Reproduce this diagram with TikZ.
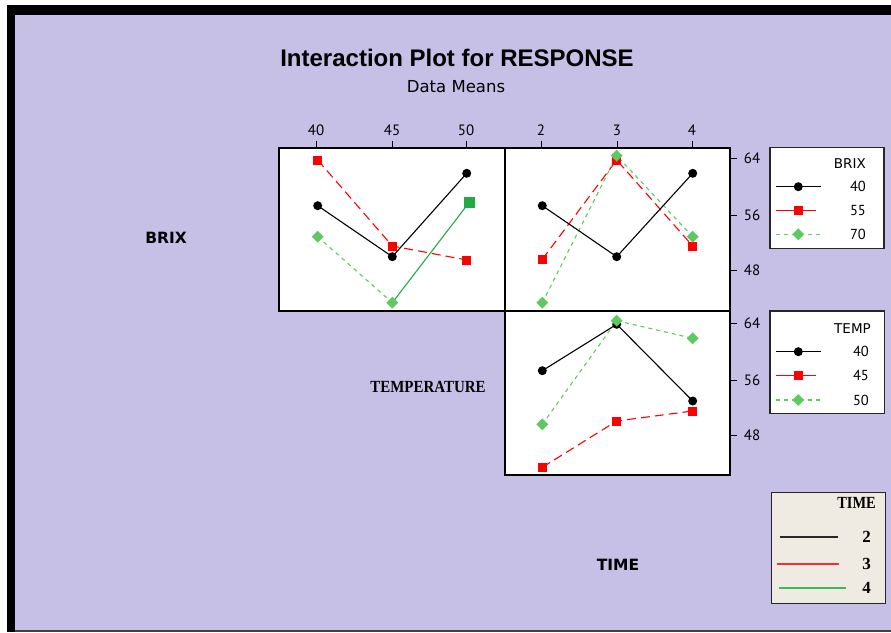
\documentclass[tikz,border=0pt]{standalone}
\usepackage{fontspec}
\setmainfont{PT Sans}
\newfontfamily\tnr{Liberation Serif}
\newfontfamily\arl{Liberation Sans}
\newfontfamily\dvs{DejaVu Sans}
\usetikzlibrary{shapes.geometric}
\definecolor{lav}{RGB}{199,192,230}
\definecolor{pred}{RGB}{255,0,0}
\definecolor{pgrn}{RGB}{96,200,96}
\definecolor{dgrn}{RGB}{34,170,70}
\definecolor{kgrn}{RGB}{60,185,90}
\definecolor{kred}{RGB}{240,50,50}
\definecolor{kblk}{RGB}{40,40,40}
\definecolor{beige}{RGB}{239,235,226}
\tikzset{
  panel/.style={draw=black, line width=1.4pt, fill=white},
  legbox/.style={draw=black!85, line width=1.4pt, fill=white},
  lblack/.style={black, line width=1.1pt},
  lred/.style={pred, line width=1.1pt, dash pattern=on 9pt off 5pt},
  lgrn/.style={pgrn, line width=1.1pt, dash pattern=on 4pt off 4pt},
  lredsolid/.style={pred, line width=1.1pt},
  mcirc/.style={circle, fill=black, inner sep=0pt, minimum size=9pt},
  msq/.style={rectangle, fill=pred, inner sep=0pt, minimum size=9pt},
  mdia/.style={diamond, fill=pgrn, inner sep=0pt, minimum size=12pt},
  tick/.style={black, line width=1pt},
  ticklbl/.style={font=\fontsize{15}{15}\selectfont, inner sep=0pt},
  factor/.style={font=\dvs\bfseries\fontsize{15.5}{15.5}\selectfont, inner sep=0pt},
  legtitle/.style={font=\dvs\fontsize{13.5}{13.5}\selectfont, inner sep=0pt, anchor=east},
  legtxt/.style={font=\fontsize{14.5}{14.5}\selectfont, inner sep=0pt, anchor=east},
  timetxt/.style={font=\tnr\bfseries\fontsize{17}{17}\selectfont, inner sep=0pt},
  timeline/.style={line width=2pt},
}
\begin{document}
\begin{tikzpicture}[x=1pt, y=-1pt]
% page and frame
\fill[white] (0,0) rectangle (891,632);
\useasboundingbox (0,0) rectangle (891,632);
\fill[black] (7,5) rectangle (891,632);
\fill[lav] (15,15) rectangle (891,630);
\fill[black!75] (15,630) rectangle (891,632);

% titles
\node[font=\arl\bfseries\fontsize{24}{24}\selectfont, inner sep=0pt] (title) at (457,58) {Interaction Plot for RESPONSE};
\node[font=\dvs\fontsize{16.5}{16.5}\selectfont, inner sep=0pt] (sub) at (456,87) {Data Means};

% panels
\draw[panel] (279,148) rectangle (505,311);
\draw[panel] (505,148) rectangle (730,311);
\draw[panel] (505,311) rectangle (730,475);

% top ticks and labels
\foreach \xx/\lab in {316/40,392/45,466/50,541/2,617/3,692/4}{
  \draw[tick] (\xx,141) -- (\xx,148);
  \node[ticklbl] at (\xx,130) {\lab};
}
% right ticks and labels
\foreach \yy/\lab in {158/64,215/56,270/48,323/64,380/56,435/48}{
  \draw[tick] (730,\yy) -- (737,\yy);
  \node[ticklbl] at (752,\yy) {\lab};
}

% factor names
\node[factor] (fbrix) at (166,238) {BRIX};
\node[font=\tnr\bfseries\fontsize{17}{17}\selectfont, inner sep=0pt, xscale=0.88] (ftemp) at (428,387) {TEMPERATURE};
\node[factor] (ftime) at (618,565) {TIME};

% panel 1: TEMP on x, BRIX traces
\coordinate (a1) at (317.7,205.7); \coordinate (a2) at (392.3,256.7); \coordinate (a3) at (466.7,173.3);
\coordinate (b1) at (317.7,160);   \coordinate (b2) at (392.3,246);   \coordinate (b3) at (466.7,260);
\coordinate (c1) at (317.7,236.7); \coordinate (c2) at (392.3,302.7); \coordinate (c3) at (469.3,202.3);
\draw[lred] (b1) -- (b2) -- (b3);
\draw[lgrn] (c1) -- (c2);
\draw[dgrn, line width=1.1pt] (c2) -- (c3);
\draw[lblack] (a1) -- (a2) -- (a3);
\foreach \p in {a1,a2,a3} \node[mcirc] at (\p) {};
\foreach \p in {b1,b2,b3} \node[msq] at (\p) {};
\foreach \p in {c1,c2} \node[mdia] at (\p) {};
\node[rectangle, fill=dgrn, inner sep=0pt, minimum size=11pt] at (c3) {};

% panel 2: TIME on x, BRIX traces
\coordinate (d1) at (542.3,205.7); \coordinate (d2) at (616.7,256.7); \coordinate (d3) at (692.7,173.3);
\coordinate (e1) at (542.3,259.3); \coordinate (e2) at (616.7,160);   \coordinate (e3) at (692.7,246);
\coordinate (f1) at (542.3,302.7); \coordinate (f2) at (616.7,155.7); \coordinate (f3) at (692.7,236.7);
\draw[lred] (e1) -- (e2) -- (e3);
\draw[lgrn] (f1) -- (f2) -- (f3);
\draw[lblack] (d1) -- (d2) -- (d3);
\foreach \p in {d1,d2,d3} \node[mcirc] at (\p) {};
\foreach \p in {e1,e2,e3} \node[msq] at (\p) {};
\foreach \p in {f1,f2,f3} \node[mdia] at (\p) {};

% panel 3: TIME on x, TEMP traces
\coordinate (g1) at (542.3,370.7); \coordinate (g2) at (616.7,324.3); \coordinate (g3) at (692.7,401);
\coordinate (h1) at (542.3,467.3); \coordinate (h2) at (616.7,421);   \coordinate (h3) at (692.7,411);
\coordinate (k1) at (542.3,424.3); \coordinate (k2) at (616.7,320.7); \coordinate (k3) at (692.7,338.3);
\draw[lred] (h1) -- (h2) -- (h3);
\draw[lgrn] (k1) -- (k2) -- (k3);
\draw[lblack] (g1) -- (g2) -- (g3);
\foreach \p in {g1,g2,g3} \node[mcirc] at (\p) {};
\foreach \p in {h1,h2,h3} \node[msq] at (\p) {};
\foreach \p in {k1,k2,k3} \node[mdia] at (\p) {};

% legend: BRIX
\draw[legbox] (770,147.5) rectangle (884,248.5);
\node[legtitle] (lb0) at (866,164) {BRIX};
\foreach \yy/\lab/\ln/\mk/\xe in {186.7/40/lblack/mcirc/820.5, 210.7/55/lredsolid/msq/816, 234.3/70/lgrn/mdia/820.5}{
  \coordinate (la) at (775.5,\yy); \coordinate (lz) at (\xe,\yy); \coordinate (lm) at (798.3,\yy);
  \draw[\ln] (la) -- (lz);
  \node[\mk] at (lm) {};
  \node[legtxt] at (866,\yy) {\lab};
}

% legend: TEMP
\draw[legbox] (770,311) rectangle (884.5,413.5);
\node[legtitle] (lt0) at (871,329) {TEMP};
\foreach \yy/\lab/\ln/\mk/\xe in {351.7/40/lblack/mcirc/820.5, 375.7/45/lredsolid/msq/816, 400/50/lgrn/mdia/820.5}{
  \coordinate (la) at (775.5,\yy); \coordinate (lz) at (\xe,\yy); \coordinate (lm) at (798.3,\yy);
  \draw[\ln] (la) -- (lz);
  \node[\mk] at (lm) {};
  \node[legtxt] at (869,\yy) {\lab};
}

% legend: TIME
\draw[draw=black!85, line width=1.4pt, fill=beige] (771.7,492.3) rectangle (885.7,603.3);
\node[font=\tnr\bfseries\fontsize{17}{17}\selectfont, inner sep=0pt, anchor=east, xscale=0.85] (lm0) at (876,503) {TIME};
\coordinate (t1a) at (780,537); \coordinate (t1b) at (838,537);
\coordinate (t2a) at (777,564); \coordinate (t2b) at (839,564);
\coordinate (t3a) at (779,588); \coordinate (t3b) at (846,588);
\draw[timeline, kblk] (t1a) -- (t1b);
\draw[timeline, kred] (t2a) -- (t2b);
\draw[timeline, kgrn] (t3a) -- (t3b);
\node[timetxt] (lm2) at (866.7,537) {2};
\node[timetxt] (lm3) at (866.7,564) {3};
\node[timetxt] (lm4) at (866.7,588) {4};
\end{tikzpicture}
\end{document}
